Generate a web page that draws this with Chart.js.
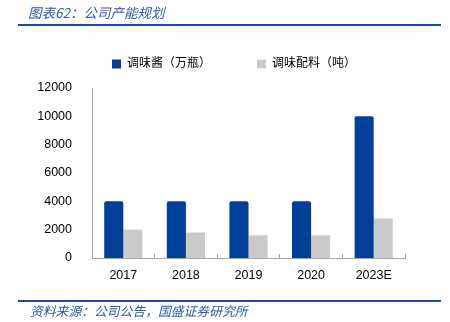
<!DOCTYPE html>
<html>
<head>
<meta charset="utf-8">
<script src="https://cdn.jsdelivr.net/npm/chart.js@4/dist/chart.umd.min.js"></script>
<style>
  html, body { margin: 0; padding: 0; background: #fff; }
  #wrap { position: relative; width: 450px; height: 322px; overflow: hidden; }
  #chart { position: absolute; left: 0; top: 0; }
  .caption {
    position: absolute; left: 28px; color: #2a5aa8; font-style: italic;
    font-family: 'Noto Sans CJK SC', sans-serif; white-space: nowrap;
  }
  #title { top: 2px; font-size: 13.5px; }
  #source { top: 301px; left: 30px; font-size: 12.8px; }
  .rule { position: absolute; left: 18px; width: 423px; height: 2px; background: #1f4c9c; }
</style>
</head>
<body>
<div id="wrap">
  <canvas id="chart" width="450" height="322"></canvas>
  <div id="title" class="caption">图表62：公司产能规划</div>
  <div class="rule" style="top:24px"></div>
  <div class="rule" style="top:300px"></div>
  <div id="source" class="caption">资料来源：公司公告，国盛证券研究所</div>
</div>
<script>
const years = ['2017', '2018', '2019', '2020', '2023E'];
const sauceCapacity = [4000, 4000, 4000, 4000, 10000];   // 万瓶
const seasoningCapacity = [2000, 1800, 1600, 1600, 2800]; // 吨
const yTicks = [0, 2000, 4000, 6000, 8000, 10000, 12000];

const FONT = "'Liberation Sans', 'Noto Sans CJK SC', sans-serif";
const AXIS_GREY = '#a6a6a6';

// nudge the legend box after layout so it sits over the plot, not the whole canvas
const legendOffset = {
  id: 'legendOffset',
  afterLayout(chart, args, opts) {
    const lg = chart.legend;
    if (!lg) return;
    lg.left += opts.dx; lg.right += opts.dx;
    lg.top += opts.dy; lg.bottom += opts.dy;
  }
};

const ctx = document.getElementById('chart').getContext('2d');
new Chart(ctx, {
  type: 'bar',
  data: {
    labels: years,
    datasets: [
      {
        label: '调味酱（万瓶）',
        data: sauceCapacity,
        backgroundColor: '#023f98',
        borderRadius: { topLeft: 2, topRight: 2 },
        borderSkipped: 'bottom'
      },
      {
        label: '调味配料（吨）',
        data: seasoningCapacity,
        backgroundColor: '#cacaca'
      }
    ]
  },
  plugins: [legendOffset],
  options: {
    responsive: false,
    animation: false,
    events: [],
    layout: { padding: { left: 15, right: 45, top: 20, bottom: 25 } },
    datasets: {
      bar: { categoryPercentage: 0.61, barPercentage: 1 }
    },
    plugins: {
      legendOffset: { dx: 24, dy: -8 },
      legend: {
        position: 'top',
        labels: {
          boxWidth: 9,
          boxHeight: 9,
          padding: 46,
          color: '#000',
          font: { family: FONT, size: 12 }
        }
      },
      tooltip: { enabled: false }
    },
    scales: {
      x: {
        grid: {
          offset: true,
          drawOnChartArea: false,
          drawTicks: true,
          tickLength: -4,
          color: AXIS_GREY
        },
        border: { color: AXIS_GREY, width: 1 },
        ticks: { color: '#000', padding: 14, font: { family: FONT, size: 12.5 } }
      },
      y: {
        min: 0,
        max: 12000,
        afterBuildTicks: (scale) => { scale.ticks = yTicks.map(v => ({ value: v })); },
        afterFit: (scale) => { scale.width = 77; },
        grid: { display: false },
        border: { color: AXIS_GREY, width: 1 },
        ticks: {
          color: '#000',
          padding: 12,
          font: { family: FONT, size: 12.5 },
          callback: (v) => String(v)
        }
      }
    }
  }
});
</script>
</body>
</html>
